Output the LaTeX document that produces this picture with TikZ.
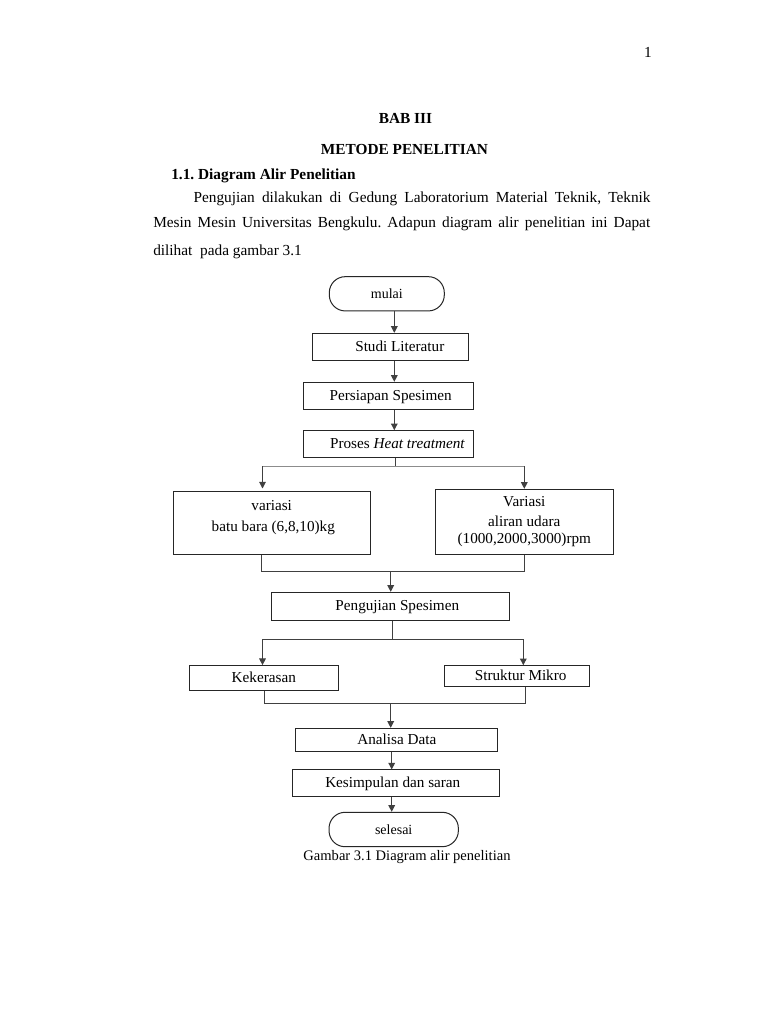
\documentclass[tikz,border=0pt]{standalone}
\usepackage{fontspec}
\setmainfont{Liberation Serif}
\usetikzlibrary{arrows.meta}
\frenchspacing
\begin{document}
\begin{tikzpicture}[x=0.75pt,y=-0.75pt,
  box/.style={draw=black!85, line width=0.75pt, inner sep=0pt, text height=8.5pt, text depth=1.5pt, font=\fontsize{11.4pt}{13pt}\selectfont},
  term/.style={box, rounded corners=12pt, font=\fontsize{10.5pt}{12pt}\selectfont},
  con/.style={draw=black!75, line width=0.75pt},
  arr/.style={con, -{Triangle[width=5pt,length=5pt]}},
  body/.style={inner sep=0pt, font=\fontsize{11.5pt}{14pt}\selectfont},
  btxt/.style={inner sep=0pt, anchor=base, font=\fontsize{11.4pt}{13pt}\selectfont}]
\useasboundingbox[fill=white] (0,0) rectangle (768,1024);

% page text
\node[body, anchor=base] (pnum) at (648,58) {1};
\node[body, anchor=base, font=\fontsize{11.5pt}{14pt}\selectfont\bfseries] (bab) at (405.5,123.3) {BAB III};
\node[body, anchor=base, font=\fontsize{11.5pt}{14pt}\selectfont\bfseries] (metode) at (404.5,154.3) {METODE PENELITIAN};
\node[body, anchor=base west, font=\fontsize{11.5pt}{14pt}\selectfont\bfseries] (head) at (171,179) {1.1. Diagram Alir Penelitian};
\node[body, anchor=base west] (l1) at (193.3,202.3) {\makebox[342.75pt][s]{Pengujian dilakukan di Gedung Laboratorium Material Teknik, Teknik}};
\node[body, anchor=base west] (l2) at (153,227.7) {\makebox[372.75pt][s]{Mesin Mesin Universitas Bengkulu. Adapun diagram alir penelitian ini Dapat}};
\node[body, anchor=base west] (l3) at (153,255.7) {dilihat\ \ pada gambar 3.1};

% flowchart nodes
\node[term, minimum width=86.25pt, minimum height=25.7pt] (mulai) at (386.8,293.8) {mulai};
\node[box, minimum width=117.3pt, minimum height=20pt] (studi) at (390.5,346.7) {\hspace*{14pt}Studi Literatur};
\node[box, minimum width=127.5pt, minimum height=20.25pt] (persiapan) at (388.3,395.8) {\hspace*{3.6pt}Persiapan Spesimen};
\node[box, minimum width=127.5pt, minimum height=20pt] (proses) at (388.3,444) {\hspace*{13.8pt}Proses \textit{Heat treatment}};

\node[box, minimum width=147.5pt, minimum height=47pt] (v1) at (271.7,523) {};
\node[btxt] (v1a) at (271.7,510) {variasi};
\node[btxt] (v1b) at (273.3,531.7) {batu bara (6,8,10)kg};
\node[box, minimum width=133.5pt, minimum height=48.75pt] (v2) at (524.3,521.8) {};
\node[btxt] (v2a) at (524.3,506) {Variasi};
\node[btxt] (v2b) at (524.3,526.7) {aliran udara};
\node[btxt] (v2c) at (524.3,543.5) {(1000,2000,3000)rpm};

\node[box, minimum width=178.7pt, minimum height=20.8pt] (pengujian) at (390.8,606.2) {\hspace*{9.75pt}Pengujian Spesimen};
\node[box, minimum width=111.75pt, minimum height=19pt] (kekerasan) at (263.8,678.3) {Kekerasan};
\node[box, minimum width=109pt, minimum height=15.75pt] (struktur) at (516.7,676.2) {\hspace*{6pt}Struktur Mikro};
\node[box, minimum width=151.3pt, minimum height=17.5pt] (analisa) at (396.8,740) {Analisa Data};
\node[box, minimum width=155.25pt, minimum height=20pt] (kesimpulan) at (395.8,783.3) {\hspace*{-4.5pt}Kesimpulan dan saran};
\node[term, minimum width=97pt, minimum height=25.8pt] (selesai) at (393.7,829.5) {selesai};

\node[body, anchor=base, font=\fontsize{10.9pt}{13pt}\selectfont] (caption) at (407,860) {Gambar 3.1 Diagram alir penelitian};

% connectors
\coordinate (t1) at (394.3,0);
\draw[arr] (mulai.south -| t1) -- (studi.north -| t1);
\draw[arr] (studi.south -| t1) -- (persiapan.north -| t1);
\draw[arr] (persiapan.south -| t1) -- (proses.north -| t1);

\coordinate (s1) at (395,466);
\coordinate (s1L) at (262.5,466);
\coordinate (s1R) at (524.3,466);
\draw[con] (proses.south -| s1) -- (s1);
\draw[con, draw=black!45] (s1L) -- (s1R);
\draw[arr, shorten >=2pt] (s1L) -- (v1.north -| s1L);
\draw[arr] (s1R) -- (v2.north -| s1R);

\coordinate (m1L) at (261.7,571);
\coordinate (m1R) at (524.3,571);
\coordinate (m1) at (390.7,571);
\draw[con] (v1.south -| m1L) -- (m1L) -- (m1R) -- (v2.south -| m1R);
\draw[arr] (m1) -- (pengujian.north -| m1);

\coordinate (s2) at (392.7,639.3);
\coordinate (s2L) at (262.5,639.3);
\coordinate (s2R) at (523.3,639.3);
\draw[con] (pengujian.south -| s2) -- (s2);
\draw[con] (s2L) -- (s2R);
\draw[arr] (s2L) -- (kekerasan.north -| s2L);
\draw[arr] (s2R) -- (struktur.north -| s2R);

\coordinate (m2L) at (264.3,703.7);
\coordinate (m2R) at (525,703.7);
\coordinate (m2) at (390.7,703.7);
\draw[con] (kekerasan.south -| m2L) -- (m2L) -- (m2R) -- (struktur.south -| m2R);
\draw[arr] (m2) -- (analisa.north -| m2);

\coordinate (t2) at (391.7,0);
\draw[arr] (analisa.south -| t2) -- (kesimpulan.north -| t2);
\draw[arr] (kesimpulan.south -| t2) -- (selesai.north -| t2);
\end{tikzpicture}
\end{document}
